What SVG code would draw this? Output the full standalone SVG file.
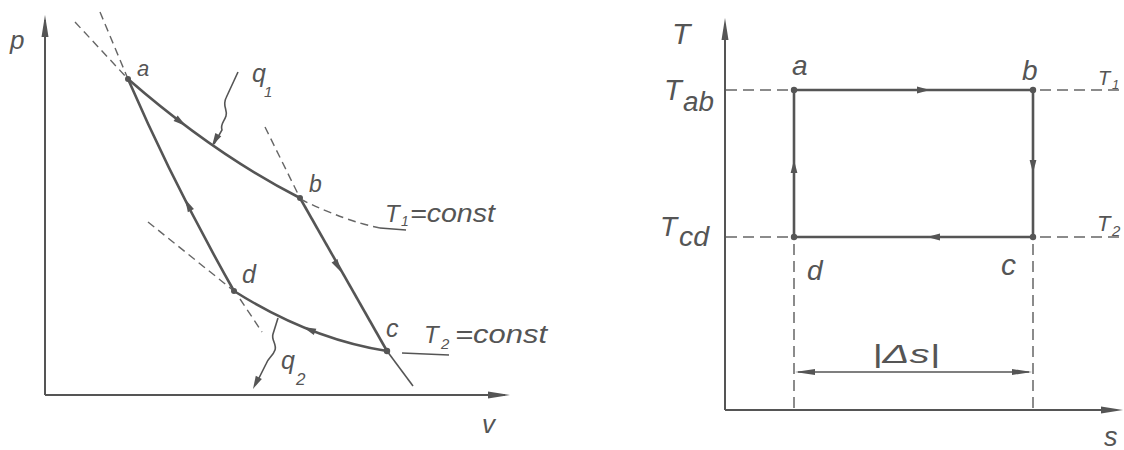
<svg xmlns="http://www.w3.org/2000/svg" xmlns:xlink="http://www.w3.org/1999/xlink" width="1124" height="450" viewBox="0 0 1124 450">
<style>
.ax{stroke:#555;stroke-width:2;fill:none}
.main{stroke:#555;stroke-width:2.6;fill:none}
.thin{stroke:#555;stroke-width:1.6;fill:none}
.dl{stroke:#666;stroke-width:1.4;fill:none;stroke-dasharray:8 5}
.dr{stroke:#666;stroke-width:1.5;fill:none;stroke-dasharray:11 6}
.ah{fill:#555}
.dot{fill:#555}
text{font-family:"Liberation Sans","DejaVu Sans",sans-serif;font-style:italic;fill:#555}
</style>
<defs>
<path id="mid" d="M0,0 L-13,-3.4 L-13,3.4 Z"/>
<path id="axh" d="M0,0 L-22,-3.5 L-22,3.5 Z"/>
<path id="dim" d="M0,0 L-20,-3 L-20,3 Z"/>
</defs>
<rect width="1124" height="450" fill="#fff"/>

<g id="pv-axes">
<line class="ax" x1="45" y1="395" x2="45" y2="20"/>
<use xlink:href="#axh" class="ah" transform="translate(45,15) rotate(-90)"/>
<line class="ax" x1="45" y1="395" x2="505" y2="395"/>
<use xlink:href="#axh" class="ah" transform="translate(510,395)"/>
<text x="10" y="49" font-size="26">p</text>
<text x="482" y="433" font-size="26">v</text>
</g>

<g id="connectors">
<path class="main" d="M128,79 Q214,154 300,198"/>
<path class="main" d="M300,198 L387,351"/>
<path class="main" d="M387,351 Q310,339 234,291"/>
<path class="main" d="M234,291 Q174,185 128,79"/>
<use xlink:href="#mid" class="ah" transform="translate(186,126) rotate(37)"/>
<use xlink:href="#mid" class="ah" transform="translate(341,272) rotate(60.2)"/>
<use xlink:href="#mid" class="ah" transform="translate(303,327) rotate(201.9)"/>
<use xlink:href="#mid" class="ah" transform="translate(185,199) rotate(243)"/>
<path class="dl" d="M75,22 L128,79"/>
<path class="dl" d="M100,12 L128,79"/>
<path class="dl" d="M265,127 L300,198"/>
<path class="dl" d="M300,199 Q345,221 380,228"/>
<line class="thin" x1="380" y1="228" x2="406" y2="230"/>
<path class="dl" d="M148,222 L234,291"/>
<path class="dl" d="M240,299 L262,332"/>
<line class="thin" x1="387" y1="351" x2="413" y2="386"/>
<line class="thin" x1="402" y1="353" x2="449" y2="355"/>
<path class="thin" d="M238,72 L226,98 C222,106 228,110 226,116 C224,122 220,124 222,130 L214,144"/>
<use xlink:href="#mid" class="ah" transform="translate(212,146) rotate(119)"/>
<path class="thin" d="M278,318 L273,334 C271,340 277,344 275,350 C273,356 268,358 266,364 L256,384"/>
<use xlink:href="#mid" class="ah" transform="translate(253,389) rotate(116.6)"/>

<line class="main" x1="794" y1="90" x2="1033" y2="90"/>
<line class="main" x1="1033" y1="90" x2="1033" y2="237"/>
<line class="main" x1="1033" y1="237" x2="794" y2="237"/>
<line class="main" x1="794" y1="237" x2="794" y2="90"/>
<use xlink:href="#mid" class="ah" transform="translate(930,90)"/>
<use xlink:href="#mid" class="ah" transform="translate(1033,173) rotate(90)"/>
<use xlink:href="#mid" class="ah" transform="translate(927,237) rotate(180)"/>
<use xlink:href="#mid" class="ah" transform="translate(794,160) rotate(-90)"/>
<line class="dr" x1="726" y1="90" x2="794" y2="90"/>
<line class="dr" x1="726" y1="237" x2="794" y2="237"/>
<line class="dr" x1="1040" y1="90" x2="1124" y2="90"/>
<line class="dr" x1="1040" y1="237" x2="1124" y2="237"/>
<line class="dr" x1="794" y1="244" x2="794" y2="410"/>
<line class="dr" x1="1033" y1="244" x2="1033" y2="410"/>
<line class="thin" x1="798" y1="372" x2="1029" y2="372"/>
<use xlink:href="#dim" class="ah" transform="translate(795,372) rotate(180)"/>
<use xlink:href="#dim" class="ah" transform="translate(1032,372)"/>
</g>

<g id="ts-axes">
<line class="ax" x1="725" y1="410" x2="725" y2="24"/>
<use xlink:href="#axh" class="ah" transform="translate(725,18) rotate(-90)"/>
<line class="ax" x1="725" y1="410" x2="1115" y2="410"/>
<use xlink:href="#axh" class="ah" transform="translate(1123,410)"/>
<text x="672" y="44" font-size="30">T</text>
<text x="1104" y="446" font-size="27">s</text>
</g>

<g id="pv-a"><circle class="dot" cx="128" cy="79" r="3"/><text x="137" y="76" font-size="22">a</text></g>
<g id="pv-b"><circle class="dot" cx="300" cy="198" r="3"/><text x="309" y="192" font-size="23">b</text></g>
<g id="pv-c"><circle class="dot" cx="387" cy="351" r="3.2"/><text x="386" y="337" font-size="25">c</text></g>
<g id="pv-d"><circle class="dot" cx="234" cy="291" r="3"/><text x="242" y="283" font-size="25">d</text></g>
<g id="pv-q1"><text x="252" y="82" font-size="25">q</text><text x="264" y="97" font-size="15">1</text></g>
<g id="pv-q2"><text x="281" y="369" font-size="25">q</text><text x="296" y="385" font-size="17">2</text></g>
<g id="pv-T1"><text x="385" y="222" font-size="24">T</text><text x="401" y="226" font-size="14">1</text><text x="410" y="222" font-size="26" textLength="85" lengthAdjust="spacingAndGlyphs">=const</text></g>
<g id="pv-T2"><text x="424" y="343" font-size="24">T</text><text x="441" y="349" font-size="15">2</text><text x="455" y="343" font-size="26" textLength="92" lengthAdjust="spacingAndGlyphs">=const</text></g>

<g id="ts-a"><circle class="dot" cx="794" cy="90" r="3.2"/><text x="792" y="75" font-size="28">a</text></g>
<g id="ts-b"><circle class="dot" cx="1033" cy="90" r="3.2"/><text x="1022" y="80" font-size="28">b</text></g>
<g id="ts-c"><circle class="dot" cx="1033" cy="237" r="3.2"/><text x="1001" y="275" font-size="30">c</text></g>
<g id="ts-d"><circle class="dot" cx="794" cy="237" r="3.2"/><text x="807" y="280" font-size="28">d</text></g>
<g id="ts-Tab"><text x="664" y="100" font-size="29">T</text><text x="683" y="111" font-size="27" textLength="31" lengthAdjust="spacingAndGlyphs">ab</text></g>
<g id="ts-Tcd"><text x="660" y="236" font-size="28">T</text><text x="679" y="246" font-size="27" textLength="30" lengthAdjust="spacingAndGlyphs">cd</text></g>
<g id="ts-T1"><text x="1098" y="85" font-size="20">T</text><text x="1112" y="89" font-size="13">1</text></g>
<g id="ts-T2"><text x="1097" y="231" font-size="22">T</text><text x="1112" y="236" font-size="15">2</text></g>
<g id="ts-ds"><text x="872" y="363" font-size="25" textLength="68" lengthAdjust="spacingAndGlyphs">|Δs|</text></g>
</svg>
